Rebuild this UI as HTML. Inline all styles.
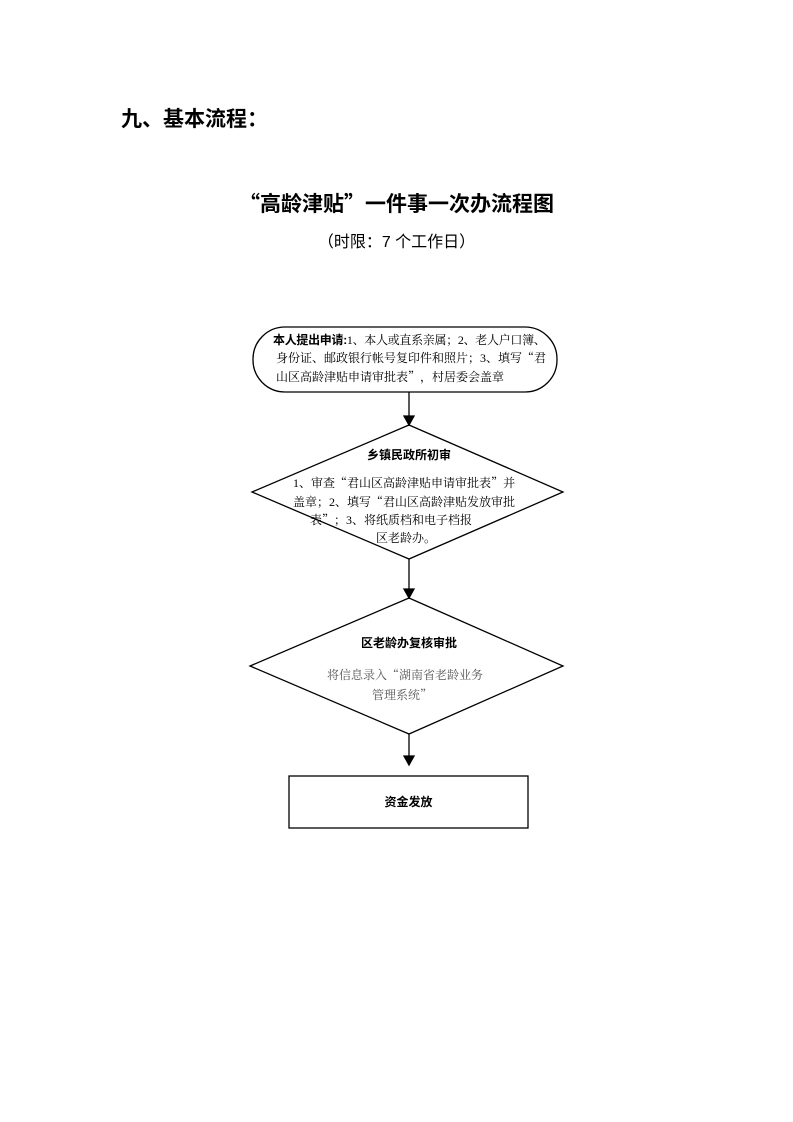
<!DOCTYPE html>
<html><head><meta charset="utf-8"><style>
body{margin:0;width:793px;height:1122px;background:#fff;position:relative;font-family:"Liberation Serif","Noto Serif CJK SC",serif;color:#000}
.t{position:absolute;white-space:nowrap;line-height:1}
.s{font-size:12px}
.b{font-weight:bold;font-family:"Liberation Sans","Noto Sans CJK SC",sans-serif}
q{quotes:none;font-family:"Noto Serif CJK SC",serif}
q:before,q:after{content:none}
.bq{font-family:"Noto Sans CJK SC",sans-serif}
</style></head><body>
<div class="t b" style="left:121px;top:109px;font-size:21px">九、基本流程：</div>
<div class="t b" style="left:0;width:793px;text-align:center;top:193px;font-size:21px"><span class="bq">“</span>高龄津贴<span class="bq">”</span>一件事一次办流程图</div>
<div class="t" style="left:0;width:793px;text-align:center;top:235px;font-size:16px;font-family:'Liberation Sans','Noto Sans CJK SC',sans-serif">（时限：7 个工作日）</div>
<svg width="793" height="1122" style="position:absolute;left:0;top:0" fill="none" stroke="#000" stroke-width="1.3">
<rect x="253" y="327" width="304" height="65" rx="32" ry="32"/>
<line x1="409" y1="392" x2="409" y2="418"/><polygon points="404,416 414,416 409,425" fill="#000"/>
<polygon points="409,425 563,492 409,559 252,492"/>
<line x1="409" y1="559" x2="409" y2="591"/><polygon points="404,589 414,589 409,598" fill="#000"/>
<polygon points="409,598 563,666 409,734 250,666"/>
<line x1="409" y1="734" x2="409" y2="758"/><polygon points="404,756 414,756 409,765" fill="#000"/>
<rect x="289" y="776" width="239" height="52"/>
</svg>
<div class="t s" style="left:273px;top:334px;letter-spacing:-0.3px"><span class="b">本人提出申请:</span>1、本人或直系亲属；2、老人户口簿、</div>
<div class="t s" style="left:276px;top:352px">身份证、邮政银行帐号复印件和照片；3、填写<q>“</q>君</div>
<div class="t s" style="left:276px;top:371px">山区高龄津贴申请审批表<q>”</q>，村居委会盖章</div>
<div class="t s b" style="left:0;width:818px;text-align:center;top:449px">乡镇民政所初审</div>
<div class="t s" style="left:293px;top:477px">1、审查<q>“</q>君山区高龄津贴申请审批表<q>”</q>并</div>
<div class="t s" style="left:293px;top:496px">盖章；2、填写<q>“</q>君山区高龄津贴发放审批</div>
<div class="t s" style="left:310px;top:514px">表<q>”</q>；3、将纸质档和电子档报</div>
<div class="t s" style="left:376px;top:532px">区老龄办。</div>
<div class="t s b" style="left:0;width:818px;text-align:center;top:637px">区老龄办复核审批</div>
<div class="t s" style="left:327px;top:669px;color:#555">将信息录入<q>“</q>湖南省老龄业务</div>
<div class="t s" style="left:372px;top:689px;color:#555">管理系统<q>”</q></div>
<div class="t s b" style="left:289px;width:239px;text-align:center;top:796px">资金发放</div>
</body></html>
